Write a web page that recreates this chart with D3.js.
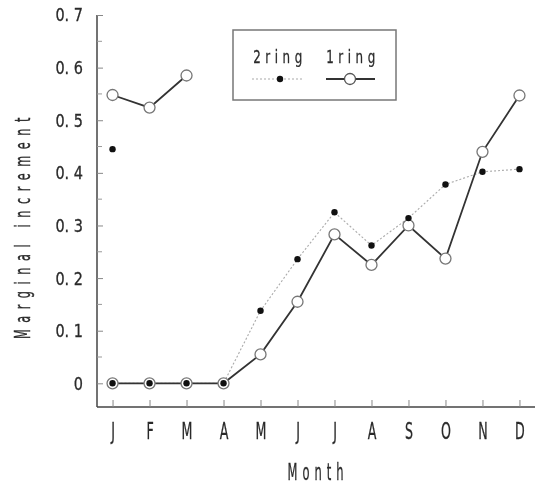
<!DOCTYPE html>
<html>
<head>
<meta charset="utf-8">
<script src="https://cdn.jsdelivr.net/npm/d3@7"></script>
<style>
  body { margin: 0; background: #fff; }
  svg text { font-family: "DejaVu Sans", sans-serif; fill: #2a2a2a; stroke: #2a2a2a; stroke-width: 0.3px; }
</style>
</head>
<body>
<svg width="540" height="485"></svg>
<script>
// data
var months = ["J", "F", "M", "A", "M", "J", "J", "A", "S", "O", "N", "D"];
var ring1 = [0, 0, 0, 0, 0.055, 0.155, 0.283, 0.225, 0.300, 0.237, 0.440, 0.547];
var ring1Early = [0.548, 0.524, 0.585];   // J, F, M upper branch
var ring2 = [0, 0, 0, 0, 0.138, 0.236, 0.325, 0.262, 0.314, 0.378, 0.402, 0.407];
var ring2Early = [0.445];                 // J, isolated point
var yTicks = [0, 0.1, 0.2, 0.3, 0.4, 0.5, 0.6, 0.7];

var svg = d3.select("svg"),
    margin = {top: 15, right: 5, bottom: 78, left: 97},
    width = +svg.attr("width") - margin.left - margin.right,
    height = +svg.attr("height") - margin.top - margin.bottom,
    g = svg.append("g").attr("transform", "translate(" + margin.left + "," + margin.top + ")");

// grayscale rendering for the squeezed labels
var defs = svg.append("defs");
defs.append("filter").attr("id", "gray")
    .append("feColorMatrix").attr("type", "saturate").attr("values", 0);

// squeeze glyphs horizontally, the original uses a tall narrow face
function narrow(sel, sx) {
    sel.each(function() {
        var t = d3.select(this),
            tx = +t.attr("x") || 0,
            ty = +t.attr("y") || 0;
        t.attr("x", 0).attr("y", 0)
         .attr("filter", "url(#gray)")
         .attr("transform", "translate(" + tx + "," + ty + ") scale(" + sx + ",1)");
    });
}

var idx = months.map(function(d, i) { return i; });
var x = d3.scalePoint().domain(idx).range([0, width]).padding(0.42);
var y = d3.scaleLinear().domain([-0.045, 0.7]).range([height, 0]);

function pts(vals) { return vals.map(function(v, i) { return [i, v]; }); }
var line = d3.line().x(function(d) { return x(d[0]); }).y(function(d) { return y(d[1]); });

// axes
var yAxis = g.append("g")
    .call(d3.axisRight(y).tickValues(yTicks).tickSize(6)
        .tickFormat(function(d) { return d === 0 ? "0" : d3.format(".1f")(d).replace(".", ". "); }));
yAxis.select(".domain").attr("d", "M0," + y(0.7) + "V" + height).attr("stroke", "#444").attr("stroke-width", 1.5);
yAxis.selectAll(".tick line").attr("stroke", "#888");
yAxis.selectAll(".tick text").attr("x", -14).attr("dy", null).attr("dominant-baseline", "central")
    .attr("text-anchor", "end").attr("font-size", 17);
narrow(yAxis.selectAll(".tick text"), 0.85);

// minor ticks on y
g.append("g").selectAll("line")
    .data(d3.range(0.05, 0.7, 0.1))
    .enter().append("line")
    .attr("x1", 0).attr("x2", 5)
    .attr("y1", function(d) { return y(d); }).attr("y2", function(d) { return y(d); })
    .attr("stroke", "#999");

var xAxis = g.append("g")
    .attr("transform", "translate(0," + height + ")")
    .call(d3.axisTop(x).tickSize(7).tickFormat(function(i) { return months[i]; }));
xAxis.select(".domain").attr("d", "M0,0H" + width).attr("stroke", "#444").attr("stroke-width", 1.5);
xAxis.selectAll(".tick line").attr("stroke", "#888");
xAxis.selectAll(".tick text").attr("y", 32).attr("dy", null)
    .attr("dominant-baseline", "auto").attr("font-size", 23);
narrow(xAxis.selectAll(".tick text"), 0.55);

var yTitle = svg.append("g").attr("transform", "translate(23,225) rotate(-90)");
yTitle.append("text")
    .attr("x", 0).attr("y", 0)
    .attr("text-anchor", "middle").attr("dominant-baseline", "central")
    .attr("font-size", 20.5).attr("letter-spacing", 12)
    .text("Marginal increment")
    .call(narrow, 0.55);

svg.append("text")
    .attr("x", 318).attr("y", 480)
    .attr("text-anchor", "middle").attr("font-size", 23).attr("letter-spacing", 10)
    .text("Month")
    .call(narrow, 0.5);

// series
g.append("path").datum(pts(ring2))
    .attr("d", line).attr("fill", "none")
    .attr("stroke", "#aaa").attr("stroke-width", 1.1).attr("stroke-dasharray", "2,2");

g.append("path").datum(pts(ring1))
    .attr("d", line).attr("fill", "none").attr("stroke", "#333").attr("stroke-width", 1.8);
g.append("path").datum(pts(ring1Early))
    .attr("d", line).attr("fill", "none").attr("stroke", "#333").attr("stroke-width", 1.8);

g.append("g").selectAll("circle")
    .data(pts(ring1).concat(pts(ring1Early)))
    .enter().append("circle")
    .attr("cx", function(d) { return x(d[0]); }).attr("cy", function(d) { return y(d[1]); })
    .attr("r", 5.5).attr("fill", "#fff").attr("stroke", "#777").attr("stroke-width", 1.3);

g.append("g").selectAll("circle")
    .data(pts(ring2).concat(pts(ring2Early)))
    .enter().append("circle")
    .attr("cx", function(d) { return x(d[0]); }).attr("cy", function(d) { return y(d[1]); })
    .attr("r", 3.2).attr("fill", "#111");

// legend
var lg = svg.append("g");
lg.append("rect").attr("x", 233).attr("y", 30).attr("width", 163).attr("height", 70)
    .attr("fill", "#fff").attr("stroke", "#777").attr("stroke-width", 1.5);
lg.append("text").attr("x", 280).attr("y", 63).attr("text-anchor", "middle")
    .attr("font-size", 17).attr("letter-spacing", 6.5).text("2ring").call(narrow, 0.7);
lg.append("text").attr("x", 353).attr("y", 63).attr("text-anchor", "middle")
    .attr("font-size", 17).attr("letter-spacing", 6.5).text("1ring").call(narrow, 0.7);
lg.append("line").attr("x1", 252).attr("x2", 303).attr("y1", 79).attr("y2", 79)
    .attr("stroke", "#aaa").attr("stroke-width", 1.1).attr("stroke-dasharray", "2,2");
lg.append("circle").attr("cx", 280).attr("cy", 79).attr("r", 3.2).attr("fill", "#111");
lg.append("line").attr("x1", 326).attr("x2", 375).attr("y1", 79).attr("y2", 79)
    .attr("stroke", "#333").attr("stroke-width", 1.8);
lg.append("circle").attr("cx", 350).attr("cy", 79).attr("r", 5.5)
    .attr("fill", "#fff").attr("stroke", "#555").attr("stroke-width", 1.3);
</script>
</body>
</html>
